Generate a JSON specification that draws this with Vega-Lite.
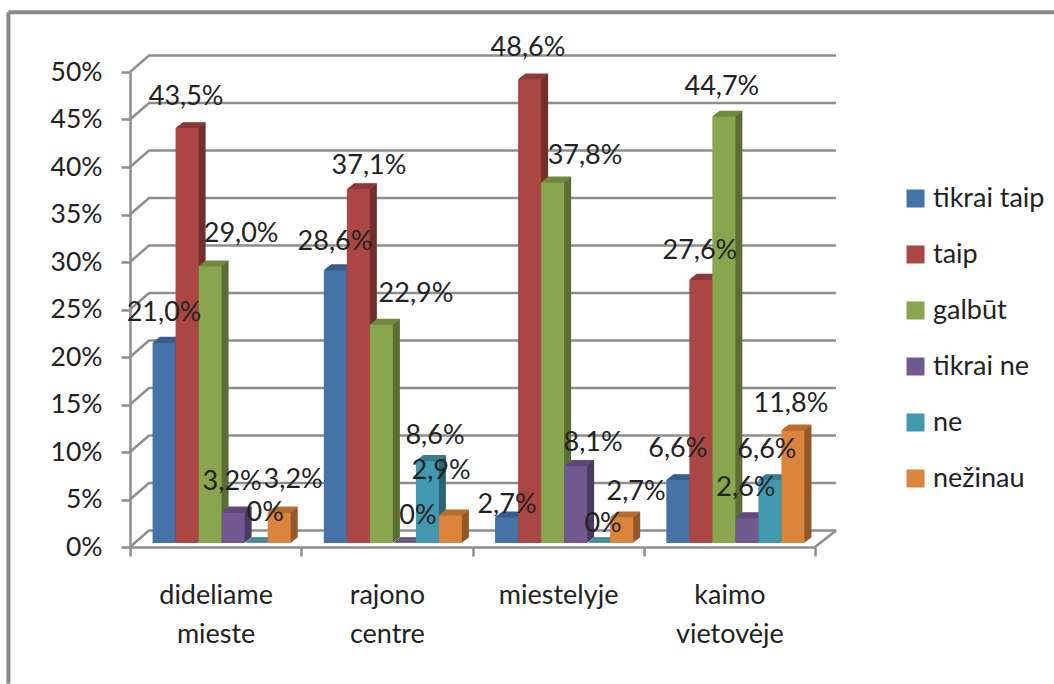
{"$schema":"https://vega.github.io/schema/vega-lite/v6.json","width":1054,"height":684,"padding":0,"autosize":{"type":"none"},"background":"white","config":{"view":{"stroke":null},"text":{"font":"Lato","fontSize":27,"fill":"#222222","baseline":"middle","align":"center"}},
"datasets":{"wall":[
{"seg":"f0","px":4,"py":0},{"seg":"f0","px":4.123,"py":1.74},
{"seg":"d0","px":0,"py":0},{"seg":"d0","px":0.111,"py":1.74},{"seg":"d0","px":4.123,"py":1.74},
{"seg":"d5","px":0,"py":5},{"seg":"d5","px":0.111,"py":6.74},{"seg":"d5","px":4.123,"py":6.74},
{"seg":"d10","px":0,"py":10},{"seg":"d10","px":0.111,"py":11.74},{"seg":"d10","px":4.123,"py":11.74},
{"seg":"d15","px":0,"py":15},{"seg":"d15","px":0.111,"py":16.74},{"seg":"d15","px":4.123,"py":16.74},
{"seg":"d20","px":0,"py":20},{"seg":"d20","px":0.111,"py":21.74},{"seg":"d20","px":4.123,"py":21.74},
{"seg":"d25","px":0,"py":25},{"seg":"d25","px":0.111,"py":26.74},{"seg":"d25","px":4.123,"py":26.74},
{"seg":"d30","px":0,"py":30},{"seg":"d30","px":0.111,"py":31.74},{"seg":"d30","px":4.123,"py":31.74},
{"seg":"d35","px":0,"py":35},{"seg":"d35","px":0.111,"py":36.74},{"seg":"d35","px":4.123,"py":36.74},
{"seg":"d40","px":0,"py":40},{"seg":"d40","px":0.111,"py":41.74},{"seg":"d40","px":4.123,"py":41.74},
{"seg":"d45","px":0,"py":45},{"seg":"d45","px":0.111,"py":46.74},{"seg":"d45","px":4.123,"py":46.74},
{"seg":"d50","px":0,"py":50},{"seg":"d50","px":0.111,"py":51.74},{"seg":"d50","px":4.123,"py":51.74}],
"border":[{"seg":"b1","px":-0.71,"py":56.3},{"seg":"b1","px":5.4,"py":56.3},{"seg":"b2","px":-0.71,"py":56.3},{"seg":"b2","px":-0.71,"py":-14.4}],
"bars":[
{"n":0,"place":"dideliame mieste","series":"tikrai taip","value":21.0,"label":"21,0%"},
{"n":1,"place":"dideliame mieste","series":"taip","value":43.5,"label":"43,5%"},
{"n":2,"place":"dideliame mieste","series":"galbūt","value":29.0,"label":"29,0%"},
{"n":3,"place":"dideliame mieste","series":"tikrai ne","value":3.2,"label":"3,2%"},
{"n":4,"place":"dideliame mieste","series":"ne","value":0,"label":"0%"},
{"n":5,"place":"dideliame mieste","series":"nežinau","value":3.2,"label":"3,2%"},
{"n":6,"place":"rajono centre","series":"tikrai taip","value":28.6,"label":"28,6%"},
{"n":7,"place":"rajono centre","series":"taip","value":37.1,"label":"37,1%"},
{"n":8,"place":"rajono centre","series":"galbūt","value":22.9,"label":"22,9%"},
{"n":9,"place":"rajono centre","series":"tikrai ne","value":0,"label":"0%"},
{"n":10,"place":"rajono centre","series":"ne","value":8.6,"label":"8,6%"},
{"n":11,"place":"rajono centre","series":"nežinau","value":2.9,"label":"2,9%"},
{"n":12,"place":"miestelyje","series":"tikrai taip","value":2.7,"label":"2,7%"},
{"n":13,"place":"miestelyje","series":"taip","value":48.6,"label":"48,6%"},
{"n":14,"place":"miestelyje","series":"galbūt","value":37.8,"label":"37,8%"},
{"n":15,"place":"miestelyje","series":"tikrai ne","value":8.1,"label":"8,1%"},
{"n":16,"place":"miestelyje","series":"ne","value":0,"label":"0%"},
{"n":17,"place":"miestelyje","series":"nežinau","value":2.7,"label":"2,7%"},
{"n":18,"place":"kaimo vietovėje","series":"tikrai taip","value":6.6,"label":"6,6%"},
{"n":19,"place":"kaimo vietovėje","series":"taip","value":27.6,"label":"27,6%"},
{"n":20,"place":"kaimo vietovėje","series":"galbūt","value":44.7,"label":"44,7%"},
{"n":21,"place":"kaimo vietovėje","series":"tikrai ne","value":2.6,"label":"2,6%"},
{"n":22,"place":"kaimo vietovėje","series":"ne","value":6.6,"label":"6,6%"},
{"n":23,"place":"kaimo vietovėje","series":"nežinau","value":11.8,"label":"11,8%"}]},
"data":{"name":"bars"},
"layer":[
{"data":{"name":"border"},"mark":{"type":"line","clip":false,"strokeWidth":4,"color":"#8a8a8a"},
"encoding":{"detail":{"field":"seg"},"order":{"value":0},
"x":{"field":"px","type":"quantitative","axis":null,"scale":{"domain":[0,4],"range":[130,815],"nice":false,"zero":false}},
"y":{"field":"py","type":"quantitative","axis":null,"scale":{"domain":[0,50],"range":[547,72],"nice":false,"zero":false}}}},
{"data":{"name":"wall"},"mark":{"type":"line","clip":false,"strokeWidth":2.5,"color":"#8e8e8e"},
"encoding":{"detail":{"field":"seg"},"order":{"value":0},
"x":{"field":"px","type":"quantitative","axis":null,"scale":{"domain":[0,4],"range":[130,815],"nice":false,"zero":false}},
"y":{"field":"py","type":"quantitative","scale":{"domain":[0,50],"range":[547,72],"nice":false,"zero":false},"axis":{"values":[0,5,10,15,20,25,30,35,40,45,50],"labelExpr":"datum.value+'%'","title":null,"offset":-130,"grid":false,"domainColor":"#8e8e8e","domainWidth":2.5,"tickColor":"#8e8e8e","tickWidth":2.5,"tickSize":9,"labelFont":"Lato","labelFontSize":26.5,"labelColor":"#222222","labelPadding":19}}}},
{"encoding":{"x":{"field":"place","type":"nominal","axis":null,"sort":null,"scale":{"range":[143,828],"paddingInner":0,"paddingOuter":0}},"xOffset":{"field":"series","type":"nominal","sort":null,"scale":{"paddingInner":0,"paddingOuter":0.72}},"y":{"field":"value","type":"quantitative","stack":null,"axis":null,"scale":{"domain":[0,50],"range":[537.75,60.75],"nice":false,"zero":false}}},
"layer":[{"mark":"bar","encoding":{"fill":{"field":"series","type":"nominal","legend":null,"sort":null,"scale":{"range":["#2f4d71","#722f2d","#5c6e34","#4c3b60","#2c6676","#935829"]}}}},{"mark":{"type":"bar","strokeWidth":1.2},"encoding":{"y2":{"field":"value"},"stroke":{"field":"series","type":"nominal","legend":null,"sort":null,"scale":{"range":["#3a5f8d","#8f3b38","#73893f","#5f4a78","#367f93","#b86f33"]}}}}]},
{"encoding":{"x":{"field":"place","type":"nominal","axis":null,"sort":null,"scale":{"range":[142,827],"paddingInner":0,"paddingOuter":0}},"xOffset":{"field":"series","type":"nominal","sort":null,"scale":{"paddingInner":0,"paddingOuter":0.72}},"y":{"field":"value","type":"quantitative","stack":null,"axis":null,"scale":{"domain":[0,50],"range":[538.5,61.5],"nice":false,"zero":false}}},
"layer":[{"mark":"bar","encoding":{"fill":{"field":"series","type":"nominal","legend":null,"sort":null}}},{"mark":{"type":"bar","strokeWidth":1.2},"encoding":{"y2":{"field":"value"},"stroke":{"field":"series","type":"nominal","legend":null,"sort":null}}}]},
{"encoding":{"x":{"field":"place","type":"nominal","axis":null,"sort":null,"scale":{"range":[141,826],"paddingInner":0,"paddingOuter":0}},"xOffset":{"field":"series","type":"nominal","sort":null,"scale":{"paddingInner":0,"paddingOuter":0.72}},"y":{"field":"value","type":"quantitative","stack":null,"axis":null,"scale":{"domain":[0,50],"range":[539.25,62.25],"nice":false,"zero":false}}},
"layer":[{"mark":"bar","encoding":{"fill":{"field":"series","type":"nominal","legend":null,"sort":null}}},{"mark":{"type":"bar","strokeWidth":1.2},"encoding":{"y2":{"field":"value"},"stroke":{"field":"series","type":"nominal","legend":null,"sort":null}}}]},
{"encoding":{"x":{"field":"place","type":"nominal","axis":null,"sort":null,"scale":{"range":[140,825],"paddingInner":0,"paddingOuter":0}},"xOffset":{"field":"series","type":"nominal","sort":null,"scale":{"paddingInner":0,"paddingOuter":0.72}},"y":{"field":"value","type":"quantitative","stack":null,"axis":null,"scale":{"domain":[0,50],"range":[540,63],"nice":false,"zero":false}}},
"layer":[{"mark":"bar","encoding":{"fill":{"field":"series","type":"nominal","legend":null,"sort":null}}},{"mark":{"type":"bar","strokeWidth":1.2},"encoding":{"y2":{"field":"value"},"stroke":{"field":"series","type":"nominal","legend":null,"sort":null}}}]},
{"encoding":{"x":{"field":"place","type":"nominal","axis":null,"sort":null,"scale":{"range":[139,824],"paddingInner":0,"paddingOuter":0}},"xOffset":{"field":"series","type":"nominal","sort":null,"scale":{"paddingInner":0,"paddingOuter":0.72}},"y":{"field":"value","type":"quantitative","stack":null,"axis":null,"scale":{"domain":[0,50],"range":[540.75,63.75],"nice":false,"zero":false}}},
"layer":[{"mark":"bar","encoding":{"fill":{"field":"series","type":"nominal","legend":null,"sort":null}}},{"mark":{"type":"bar","strokeWidth":1.2},"encoding":{"y2":{"field":"value"},"stroke":{"field":"series","type":"nominal","legend":null,"sort":null}}}]},
{"encoding":{"x":{"field":"place","type":"nominal","axis":null,"sort":null,"scale":{"range":[138,823],"paddingInner":0,"paddingOuter":0}},"xOffset":{"field":"series","type":"nominal","sort":null,"scale":{"paddingInner":0,"paddingOuter":0.72}},"y":{"field":"value","type":"quantitative","stack":null,"axis":null,"scale":{"domain":[0,50],"range":[541.5,64.5],"nice":false,"zero":false}}},
"layer":[{"mark":"bar","encoding":{"fill":{"field":"series","type":"nominal","legend":null,"sort":null}}},{"mark":{"type":"bar","strokeWidth":1.2},"encoding":{"y2":{"field":"value"},"stroke":{"field":"series","type":"nominal","legend":null,"sort":null}}}]},
{"encoding":{"x":{"field":"place","type":"nominal","axis":null,"sort":null,"scale":{"range":[137,822],"paddingInner":0,"paddingOuter":0}},"xOffset":{"field":"series","type":"nominal","sort":null,"scale":{"paddingInner":0,"paddingOuter":0.72}},"y":{"field":"value","type":"quantitative","stack":null,"axis":null,"scale":{"domain":[0,50],"range":[542.25,65.25],"nice":false,"zero":false}}},
"layer":[{"mark":"bar","encoding":{"fill":{"field":"series","type":"nominal","legend":null,"sort":null}}},{"mark":{"type":"bar","strokeWidth":1.2},"encoding":{"y2":{"field":"value"},"stroke":{"field":"series","type":"nominal","legend":null,"sort":null}}}]},
{"mark":"bar","encoding":{"x":{"field":"place","type":"nominal","axis":null,"sort":null,"scale":{"range":[136,821],"paddingInner":0,"paddingOuter":0}},"xOffset":{"field":"series","type":"nominal","sort":null,"scale":{"paddingInner":0,"paddingOuter":0.72}},"y":{"field":"value","type":"quantitative","stack":null,"axis":null,"scale":{"domain":[0,50],"range":[543,66],"nice":false,"zero":false}},
"color":{"field":"series","type":"nominal","title":null,"sort":null,"scale":{"range":["#4572A7","#AA4643","#89A54E","#71588F","#4198AF","#DB843D"]},"legend":{"orient":"none","legendX":902,"legendY":185,"symbolType":"square","symbolSize":324,"symbolStrokeWidth":0,"labelFont":"Lato","labelFontSize":27,"labelColor":"#222222","labelOffset":4,"rowPadding":28,"labelLimit":150}}}},
{"encoding":{"x":{"field":"place","type":"nominal","sort":null,"scale":{"range":[130,815],"paddingInner":0,"paddingOuter":0},"axis":{"title":null,"orient":"bottom","offset":-137,"labelAngle":0,"tickBand":"extent","labelExpr":"split(datum.label,' ')","domainColor":"#8e8e8e","domainWidth":2.5,"tickColor":"#8e8e8e","tickWidth":2.5,"tickSize":9,"labelFont":"Lato","labelFontSize":27,"labelColor":"#222222","labelPadding":26,"labelLineHeight":39}},"xOffset":{"field":"series","type":"nominal","sort":null,"scale":{"type":"band","paddingInner":0,"paddingOuter":0.72}},"y":{"field":"value","type":"quantitative","stack":null,"axis":null,"scale":{"domain":[0,50],"range":[548.5,73.5],"nice":false,"zero":false}},"text":{"field":"label"}},
"layer":[
{"transform":[{"filter":"datum.n==0"}],"mark":{"type":"text","dx":6,"dy":-36.5}},
{"transform":[{"filter":"datum.n==1"}],"mark":{"type":"text","dx":5,"dy":-38}},
{"transform":[{"filter":"datum.n==2"}],"mark":{"type":"text","dx":37,"dy":-39.5}},
{"transform":[{"filter":"datum.n==3"}],"mark":{"type":"text","dx":5,"dy":-36.6}},
{"transform":[{"filter":"datum.n==4"}],"mark":{"type":"text","dx":15,"dy":-36}},
{"transform":[{"filter":"datum.n==5"}],"mark":{"type":"text","dx":20,"dy":-38.6}},
{"transform":[{"filter":"datum.n==6"}],"mark":{"type":"text","dx":5.6,"dy":-35}},
{"transform":[{"filter":"datum.n==7"}],"mark":{"type":"text","dx":16.6,"dy":-30.5}},
{"transform":[{"filter":"datum.n==8"}],"mark":{"type":"text","dx":40.6,"dy":-36.5}},
{"transform":[{"filter":"datum.n==9"}],"mark":{"type":"text","dx":19.6,"dy":-33}},
{"transform":[{"filter":"datum.n==10"}],"mark":{"type":"text","dx":13.6,"dy":-31}},
{"transform":[{"filter":"datum.n==11"}],"mark":{"type":"text","dx":-3.3,"dy":-49.5}},
{"transform":[{"filter":"datum.n==12"}],"mark":{"type":"text","dx":6.4,"dy":-18}},
{"transform":[{"filter":"datum.n==13"}],"mark":{"type":"text","dx":4.4,"dy":-39}},
{"transform":[{"filter":"datum.n==14"}],"mark":{"type":"text","dx":38.4,"dy":-33}},
{"transform":[{"filter":"datum.n==15"}],"mark":{"type":"text","dx":23.4,"dy":-29}},
{"transform":[{"filter":"datum.n==16"}],"mark":{"type":"text","dx":10.4,"dy":-25}},
{"transform":[{"filter":"datum.n==17"}],"mark":{"type":"text","dx":20.4,"dy":-31}},
{"transform":[{"filter":"datum.n==18"}],"mark":{"type":"text","dx":6,"dy":-37}},
{"transform":[{"filter":"datum.n==19"}],"mark":{"type":"text","dx":5,"dy":-35}},
{"transform":[{"filter":"datum.n==20"}],"mark":{"type":"text","dx":4,"dy":-37}},
{"transform":[{"filter":"datum.n==21"}],"mark":{"type":"text","dx":5,"dy":-36}},
{"transform":[{"filter":"datum.n==22"}],"mark":{"type":"text","dx":3,"dy":-36}},
{"transform":[{"filter":"datum.n==23"}],"mark":{"type":"text","dx":4,"dy":-32}}]}],
"resolve":{"scale":{"x":"independent","y":"independent","xOffset":"independent"}}}
